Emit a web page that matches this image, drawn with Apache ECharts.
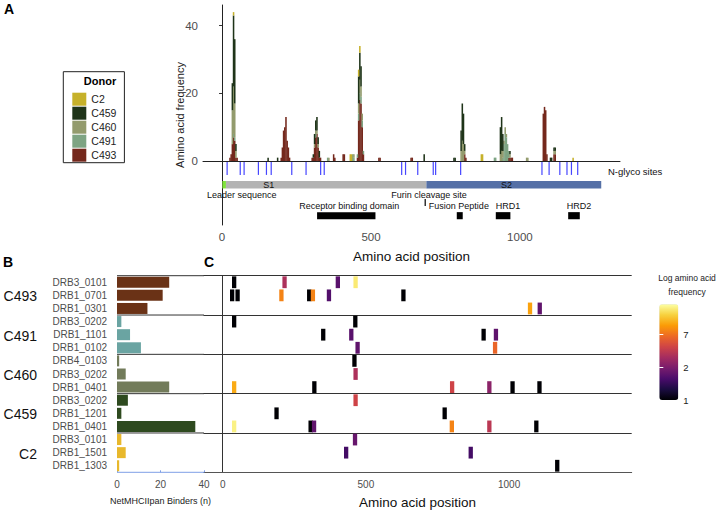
<!DOCTYPE html>
<html>
<head>
<meta charset="utf-8">
<script src="https://cdn.jsdelivr.net/npm/echarts@6/dist/echarts.min.js"></script>
<style>
  html, body { margin: 0; padding: 0; background: #fff; }
  #chart { width: 718px; height: 511px; }
</style>
</head>
<body>
<div id="chart"></div>
<script>
// ---------------- data ----------------
var donors = ['C2', 'C459', 'C460', 'C491', 'C493'];

// Panel A: stacked amino acid frequency (4-aa bins, centre positions)
var histPos  = [26, 30, 34, 38, 42, 46, 50, 154, 186, 198, 202, 206, 210, 214, 218, 222, 226,
                302, 306, 310, 314, 318, 322, 326, 330, 354, 358, 374, 378, 406, 410, 430, 434, 438, 442,
                454, 458, 462, 466, 470, 474, 526, 530, 634, 638, 678, 778, 782,
                802, 806, 810, 814, 818, 870, 874, 914, 918,
                934, 938, 942, 946, 950, 954, 958, 962, 966, 970, 974, 1022, 1026,
                1078, 1082, 1086, 1090, 1102, 1106, 1114, 1118, 1178];
var histC2   = [0, 0, 0, 1, 0, 0, 0, 0, 0, 0, 0, 0, 0, 0, 0, 0, 0,
                0, 0, 0, 0, 0, 0, 0, 0, 0, 0, 0, 0, 0, 0, 2, 2, 0, 0,
                0, 2, 2, 0, 0, 0, 0, 0, 0, 0, 0, 0, 0,
                0, 0, 0, 0, 0, 2, 2, 0, 0,
                0, 0, 0, 0, 0, 0, 0, 0, 0, 0, 0, 0, 0,
                0, 0, 0, 0, 0, 0, 0, 0, 1];
var histC459 = [0, 0, 8, 21, 19, 2, 0, 1, 1, 0, 0, 0, 0, 0, 0, 0, 0,
                0, 1, 3, 3, 4, 2, 2, 0, 0, 0, 0, 0, 0, 0, 0, 0, 0, 0,
                0, 8, 8, 6, 0, 0, 0, 0, 0, 0, 2, 1, 1,
                6, 11, 9, 2, 0, 0, 0, 0, 0,
                8, 10, 5, 0, 0, 0, 0, 0, 1, 0, 0, 0, 0,
                0, 0, 0, 0, 1, 1, 1, 1, 0];
var histC460 = [0, 0, 10, 14, 10, 2, 0, 0, 0, 0, 0, 0, 0, 0, 0, 0, 0,
                0, 0, 1, 1, 1, 1, 0, 0, 0, 1, 0, 0, 0, 0, 0, 0, 0, 1,
                0, 3, 4, 3, 2, 0, 0, 0, 0, 0, 0, 0, 0,
                3, 6, 5, 1, 0, 0, 0, 0, 0,
                2, 3, 2, 1, 2, 1, 0, 0, 1, 0, 0, 1, 1,
                0, 0, 0, 0, 0, 0, 1, 1, 0];
var histC491 = [0, 0, 0, 1, 1, 0, 0, 0, 0, 0, 0, 0, 0, 0, 0, 0, 0,
                0, 0, 0, 1, 0, 0, 0, 0, 1, 0, 0, 0, 0, 0, 0, 0, 2, 1,
                1, 2, 2, 2, 2, 1, 0, 0, 0, 0, 0, 0, 0,
                0, 0, 0, 0, 0, 0, 0, 1, 1,
                0, 0, 1, 5, 8, 7, 5, 2, 0, 0, 0, 0, 0,
                0, 0, 0, 0, 0, 0, 0, 0, 0];
var histC493 = [1, 2, 5, 7, 6, 1, 1, 0, 0, 1, 4, 9, 10, 13, 6, 4, 1,
                1, 1, 4, 7, 8, 4, 1, 1, 0, 0, 2, 1, 2, 2, 0, 0, 0, 0,
                1, 12, 18, 17, 10, 2, 1, 1, 1, 1, 0, 0, 0,
                0, 0, 0, 2, 1, 0, 0, 0, 0,
                0, 0, 0, 0, 0, 0, 0, 1, 1, 1, 1, 0, 0,
                14, 16, 15, 2, 0, 0, 2, 2, 0];

// Panel A annotation tracks (amino acid positions)
var glycoSites = [17, 61, 74, 122, 149, 165, 234, 282, 331, 343, 603, 616, 657, 709, 717, 801,
                  1074, 1098, 1134, 1158, 1173, 1194];
var domainNames = ['', 'S1', 'S2'];
var domainStart = [1, 13, 686];
var domainEnd   = [13, 686, 1273];
var domainLabelAt = [null, 157, 955];
var featureNames = ['Receptor binding domain', 'Fusion Peptide', 'HRD1', 'HRD2'];
var featureStart = [319, 788, 919, 1162];
var featureEnd   = [515, 808, 968, 1201];
var featureLabelAt = [427, 795, 960, 1198];
var siteNames = ['Leader sequence', 'Furin cleavage site'];
var siteLabelAt = [66, 695];
var furinSite = 682;

// Panel B: NetMHCIIpan binders per allele
var rowDonor  = ['C493', 'C493', 'C493', 'C491', 'C491', 'C491', 'C460', 'C460', 'C460',
                 'C459', 'C459', 'C459', 'C2', 'C2', 'C2'];
var rowAllele = ['DRB3_0101', 'DRB1_0701', 'DRB1_0301', 'DRB3_0202', 'DRB1_1101', 'DRB1_0102',
                 'DRB4_0103', 'DRB3_0202', 'DRB1_0401', 'DRB3_0202', 'DRB1_1201', 'DRB1_0401',
                 'DRB3_0101', 'DRB1_1501', 'DRB1_1303'];
var binders   = [24, 21, 14, 2, 6, 11, 1, 4, 24, 5, 2, 36, 2, 4, 1];
var groupFirstRow = [0, 3, 6, 9, 12, 15];
var donorLabelRow = [1, 4, 7, 10, 13];

// Panel C: log amino acid frequency of binders (row, position, ln frequency)
var heatRow = [0, 0, 0, 0,
               1, 1, 1, 1, 1, 1, 1,
               2, 2,
               3, 3,
               4, 4, 4, 4,
               5, 5,
               6,
               7,
               8, 8, 8, 8, 8, 8,
               9,
               10, 10,
               11, 11, 11, 11, 11, 11,
               12,
               13, 13,
               14];
var heatPos = [40, 216, 402, 464,
               33, 52, 205, 302, 315, 371, 631,
               1073, 1107,
               40, 463,
               351, 449, 911, 954,
               471, 951,
               460,
               464,
               40, 320, 801, 931, 1012, 1106,
               464,
               188, 775,
               40, 307, 319, 800, 931, 1095,
               462,
               431, 866,
               1168];
var heatLogFreq = [0, 1.35, 0.75, 2.75,
                   0, 0, 2.1, 0, 2.1, 0.7, 0,
                   2.3, 0.8,
                   0, 0,
                   0, 0.75, 0, 0.8,
                   0.8, 1.9,
                   0,
                   1.35,
                   2.35, 0, 1.6, 1.1, 0, 0,
                   1.6,
                   0, 0,
                   2.8, 0, 0.8, 2.1, 1.45, 0,
                   0.85,
                   0.6, 0.6,
                   0];

// ---------------- styles ----------------
var FONT = 'Liberation Sans, Arial, sans-serif';
var histColor = { C2: '#c6b12a', C459: '#1f3419', C460: '#939b6d', C491: '#7ea483', C493: '#74281c' };
var bindColor = { C2: '#e8b82c', C459: '#2e4a1f', C460: '#727b5a', C491: '#6aa4a2', C493: '#6a3216' };
var domainColor = ['#7fe43a', '#b3b3b3', '#5570a6'];
var inferno = ['#000004', '#1b0c41', '#4a0c6b', '#781c6d', '#a52c60', '#cf4446', '#ed6925', '#fb9b06', '#f7d13d', '#fcffa4'];

// track levels in panel A (y data units below zero)
var GLYCO_Y = [-0.3, -4.1], DOMAIN_Y = [-5.9, -8.1], SITE_TEXT_Y = -10, FURIN_Y = [-11.2, -13.3];
var FEATURE_TEXT_Y = -13.4, FEATURE_Y = [-15.1, -17.2];
var binWidth = 4;

var histByDonor = { C2: histC2, C459: histC459, C460: histC460, C491: histC491, C493: histC493 };
var stackOrder = ['C493', 'C491', 'C460', 'C459', 'C2'];

var rowKeys = rowAllele.map(function (a, i) { return a + '#' + i; });
function plainNum(v) { return String(v); }

function rectBetween(api, x0, y0, x1, y1, fill) {
  var a = api.coord([x0, y1]);
  var c = api.coord([x1, y0]);
  return { type: 'rect', shape: { x: a[0], y: a[1], width: c[0] - a[0], height: c[1] - a[1] }, style: { fill: fill } };
}

// stacked histogram: C493 at the bottom, C2 on top
var series = [];
var stackBase = histPos.map(function () { return 0; });
stackOrder.forEach(function (d, si) {
  var vals = histByDonor[d];
  var data = [];
  histPos.forEach(function (p, i) {
    if (vals[i] > 0) data.push([p - binWidth / 2, p + binWidth / 2, stackBase[i], stackBase[i] + vals[i]]);
    stackBase[i] += vals[i];
  });
  var s = {
    name: d, type: 'custom', xAxisIndex: 0, yAxisIndex: 0, silent: true,
    itemStyle: { color: histColor[d] },
    data: data, encode: { x: [0, 1], y: [2, 3] },
    renderItem: function (params, api) {
      var a = api.coord([api.value(0), api.value(3)]);
      var c = api.coord([api.value(1), api.value(2)]);
      return { type: 'rect', shape: { x: a[0], y: a[1], width: c[0] - a[0] + 0.35, height: c[1] - a[1] },
               style: { fill: api.visual('color') } };
    }
  };
  if (si === 0) {
    s.markLine = {
      silent: true, symbol: 'none', label: { show: false },
      lineStyle: { color: '#222', width: 1, type: 'solid' },
      data: [{ yAxis: 0 }]
    };
  }
  series.push(s);
});

// N-glyco ticks
series.push({
  type: 'custom', xAxisIndex: 0, yAxisIndex: 0, silent: true,
  data: glycoSites.map(function (p) { return [p]; }),
  encode: { x: 0 },
  renderItem: function (params, api) {
    var a = api.coord([api.value(0), GLYCO_Y[0]]);
    var c = api.coord([api.value(0), GLYCO_Y[1]]);
    return { type: 'line', shape: { x1: a[0], y1: a[1], x2: c[0], y2: c[1] },
             style: { stroke: '#4646ff', lineWidth: 1.2 } };
  }
});
// S1 / S2 domain bar
series.push({
  type: 'custom', xAxisIndex: 0, yAxisIndex: 0, silent: true,
  data: domainNames.map(function (n, i) { return [domainStart[i], domainEnd[i], i]; }),
  encode: { x: [0, 1] },
  renderItem: function (params, api) {
    var i = api.value(2);
    var kids = [rectBetween(api, api.value(0), DOMAIN_Y[1], api.value(1), DOMAIN_Y[0], domainColor[i])];
    if (domainLabelAt[i] != null) {
      var t = api.coord([domainLabelAt[i], (DOMAIN_Y[0] + DOMAIN_Y[1]) / 2]);
      kids.push({ type: 'text', x: t[0], y: t[1],
        style: { text: domainNames[i], fill: '#111', font: '9px ' + FONT, align: 'center', verticalAlign: 'middle' } });
    }
    return { type: 'group', children: kids };
  }
});
// leader / furin labels + furin tick
series.push({
  type: 'custom', xAxisIndex: 0, yAxisIndex: 0, silent: true,
  data: siteNames.map(function (n, i) { return [siteLabelAt[i], i]; }),
  encode: { x: 0 },
  renderItem: function (params, api) {
    var i = api.value(1);
    var t = api.coord([api.value(0), SITE_TEXT_Y]);
    var kids = [{ type: 'text', x: t[0], y: t[1],
      style: { text: siteNames[i], fill: '#111', font: '9px ' + FONT, align: 'center', verticalAlign: 'middle' } }];
    if (i === 1) {
      var a = api.coord([furinSite, FURIN_Y[0]]), c = api.coord([furinSite, FURIN_Y[1]]);
      kids.push({ type: 'line', shape: { x1: a[0], y1: a[1], x2: c[0], y2: c[1] }, style: { stroke: '#000', lineWidth: 1.2 } });
    }
    return { type: 'group', children: kids };
  }
});
// RBD, FP, HRD1, HRD2
series.push({
  type: 'custom', xAxisIndex: 0, yAxisIndex: 0, silent: true,
  data: featureNames.map(function (n, i) { return [featureStart[i], featureEnd[i], i]; }),
  encode: { x: [0, 1] },
  renderItem: function (params, api) {
    var i = api.value(2);
    var t = api.coord([featureLabelAt[i], FEATURE_TEXT_Y]);
    return { type: 'group', children: [
      rectBetween(api, api.value(0), FEATURE_Y[1], api.value(1), FEATURE_Y[0], '#000'),
      { type: 'text', x: t[0], y: t[1],
        style: { text: featureNames[i], fill: '#111', font: '9px ' + FONT, align: 'center', verticalAlign: 'middle' } }
    ] };
  }
});
// Panel B bars
series.push({
  type: 'bar', xAxisIndex: 1, yAxisIndex: 1, barWidth: 11, silent: true,
  data: binders.map(function (v, i) { return { value: v, itemStyle: { color: bindColor[rowDonor[i]] } }; })
});
// Panel B donor group dividers
series.push({
  type: 'custom', xAxisIndex: 1, yAxisIndex: 1, silent: true,
  data: groupFirstRow.map(function (r) { return [0, r]; }),
  encode: { x: 0, y: 1 },
  renderItem: function (params, api) {
    var r = api.value(1);
    var band = api.size([0, 1])[1];
    var ref = api.coord([0, Math.min(r, rowKeys.length - 1)]);
    var y = r < rowKeys.length ? ref[1] - band / 2 : ref[1] + band / 2;
    var x0 = api.coord([0, 0])[0], x1 = api.coord([40, 0])[0];
    return { type: 'line', shape: { x1: x0, y1: y, x2: x1, y2: y }, style: { stroke: r === rowKeys.length ? '#7f9fe6' : '#333', lineWidth: 1 } };
  }
});
// Panel B donor names (left of allele labels)
series.push({
  type: 'custom', xAxisIndex: 1, yAxisIndex: 1, silent: true,
  data: donorLabelRow.map(function (r) { return [0, r]; }),
  encode: { x: 0, y: 1 },
  renderItem: function (params, api) {
    var p = api.coord([0, api.value(1)]);
    return { type: 'text', x: p[0] - 80, y: p[1] + 1,
      style: { text: rowDonor[api.value(1)], fill: '#111', font: '14px ' + FONT, align: 'right', verticalAlign: 'middle' } };
  }
});
// Panel C cells
var heatSeriesIndex = series.length;
series.push({
  type: 'custom', xAxisIndex: 2, yAxisIndex: 2, silent: true,
  data: heatPos.map(function (p, i) { return [p, heatRow[i], heatLogFreq[i]]; }),
  encode: { x: 0, y: 1 },
  renderItem: function (params, api) {
    var c = api.coord([api.value(0), api.value(1)]);
    var s = api.size([15, 1]);
    var w = s[0], h = s[1] * 0.9;
    return { type: 'rect', shape: { x: c[0] - w / 2, y: c[1] - h / 2, width: w, height: h },
             style: { fill: api.visual('color') } };
  }
});

var tickLabel = { color: '#4d4d4d', fontFamily: FONT };

var option = {
  animation: false,
  backgroundColor: '#fff',
  textStyle: { fontFamily: FONT },
  grid: [
    { left: 203, top: 5, width: 417, height: 220, outerBoundsMode: 'none' },
    { left: 117, top: 275.7, width: 87, height: 196.6, outerBoundsMode: 'none' },
    { left: 203.5, top: 275.7, width: 428.2, height: 196.6, outerBoundsMode: 'none' },
    { left: 659.3, top: 304.3, width: 19, height: 95.7, outerBoundsMode: 'none' }
  ],
  xAxis: [
    { type: 'value', gridIndex: 0, position: 'bottom', min: -64, max: 1336,
      axisLine: { show: true, lineStyle: { color: '#222' } },
      axisTick: { show: false },
      axisLabel: Object.assign({ customValues: [0, 500, 1000], fontSize: 11.5, margin: 6, formatter: plainNum }, tickLabel),
      splitLine: { show: false },
      name: 'Amino acid position', nameLocation: 'middle', nameGap: 24, nameMoveOverlap: false,
      nameTextStyle: { fontSize: 13.5, color: '#111', fontFamily: FONT } },
    { type: 'value', gridIndex: 1, min: 0, max: 40, interval: 20,
      axisLine: { show: false },
      axisTick: { show: true, inside: true, length: 2, lineStyle: { color: '#7f9fe6' } },
      axisLabel: Object.assign({ fontSize: 10, margin: 7 }, tickLabel),
      splitLine: { show: false },
      name: 'NetMHCIIpan Binders (n)', nameLocation: 'middle', nameGap: 24, nameMoveOverlap: false,
      nameTextStyle: { fontSize: 9, color: '#222', fontFamily: FONT } },
    { type: 'value', gridIndex: 2, min: -67, max: 1428,
      axisLine: { show: true, lineStyle: { color: '#555' } },
      axisTick: { show: false },
      axisLabel: Object.assign({ customValues: [0, 500, 1000], fontSize: 10, margin: 7, formatter: plainNum }, tickLabel),
      splitLine: { show: false },
      name: 'Amino acid position', nameLocation: 'middle', nameGap: 23, nameMoveOverlap: false,
      nameTextStyle: { fontSize: 13.5, color: '#111', fontFamily: FONT } },
    { type: 'value', gridIndex: 3, min: 0, max: 1, show: false }
  ],
  yAxis: [
    { type: 'value', gridIndex: 0, min: -18.9, max: 46.1,
      axisLine: { show: true, lineStyle: { color: '#222' } },
      axisTick: { show: true, length: 3, customValues: [0, 20, 40], lineStyle: { color: '#333' } },
      axisLabel: Object.assign({ customValues: [0, 20, 40], fontSize: 11.5, margin: 5 }, tickLabel),
      splitLine: { show: false },
      name: 'Amino acid frequency', nameLocation: 'middle', nameGap: 18, nameMoveOverlap: false,
      nameTextStyle: { fontSize: 11, color: '#222', fontFamily: FONT } },
    { type: 'category', gridIndex: 1, data: rowKeys, inverse: true,
      axisLine: { show: false }, axisTick: { show: false },
      axisLabel: Object.assign({ fontSize: 10, margin: 10, interval: 0,
        formatter: function (v) { return v.split('#')[0]; } }, tickLabel),
      splitLine: { show: false } },
    { type: 'category', gridIndex: 2, data: rowKeys, inverse: true,
      axisLine: { show: true, lineStyle: { color: '#333' } }, axisTick: { show: false },
      axisLabel: { show: false },
      splitLine: { show: true, interval: 2, lineStyle: { color: '#333', width: 1 } } },
    { type: 'value', gridIndex: 3, min: 0, max: 2.9, position: 'right', z: 10,
      axisLine: { show: false },
      axisTick: { show: true, inside: true, length: 4, customValues: [1, 2], lineStyle: { color: '#fff' } },
      axisLabel: { customValues: [0, 1, 2], fontSize: 9.5, color: '#222', fontFamily: FONT, margin: 5,
        formatter: function (v) { return String(Math.floor(Math.exp(v))); } },
      splitLine: { show: false } },
    { type: 'value', gridIndex: 3, min: 0, max: 2.9, position: 'left', z: 10,
      axisLine: { show: false },
      axisTick: { show: true, inside: true, length: 4, customValues: [1, 2], lineStyle: { color: '#fff' } },
      axisLabel: { show: false }, splitLine: { show: false } }
  ],
  visualMap: {
    type: 'continuous', min: 0, max: 2.9, dimension: 2, seriesIndex: [heatSeriesIndex],
    inRange: { color: inferno }, calculable: false, text: ['', ''],
    left: 659.3, top: 304.3, itemWidth: 19, itemHeight: 95.7, padding: 0,
    textStyle: { color: 'rgba(0,0,0,0)' }
  },
  legend: {
    data: donors, orient: 'vertical', left: 63.3, top: 71.7, padding: [21, 8, 1, 9],
    itemWidth: 14, itemHeight: 13, itemGap: 1, icon: 'rect', selectedMode: false,
    borderColor: '#222', borderWidth: 1,
    textStyle: { fontSize: 10.5, color: '#222', fontFamily: FONT }
  },
  graphic: [
    { type: 'text', x: 4, y: 9, style: { text: 'A', font: 'bold 14px ' + FONT, fill: '#000', align: 'left', verticalAlign: 'middle' } },
    { type: 'text', x: 3, y: 262, style: { text: 'B', font: 'bold 14px ' + FONT, fill: '#000', align: 'left', verticalAlign: 'middle' } },
    { type: 'text', x: 204, y: 262, style: { text: 'C', font: 'bold 14px ' + FONT, fill: '#000', align: 'left', verticalAlign: 'middle' } },
    { type: 'text', x: 100, y: 81, style: { text: 'Donor', font: 'bold 11px ' + FONT, fill: '#000', align: 'center', verticalAlign: 'middle' } },
    { type: 'text', x: 608, y: 171, style: { text: 'N-glyco sites', font: '9.5px ' + FONT, fill: '#111', align: 'left', verticalAlign: 'middle' } },
    { type: 'text', x: 687, y: 278, style: { text: 'Log amino acid', font: '8.5px ' + FONT, fill: '#222', align: 'center', verticalAlign: 'middle' } },
    { type: 'text', x: 687, y: 292, style: { text: 'frequency', font: '8.5px ' + FONT, fill: '#222', align: 'center', verticalAlign: 'middle' } }
  ],
  series: series
};

var chart = echarts.init(document.getElementById('chart'), null, { renderer: 'svg' });
chart.setOption(option);
</script>
</body>
</html>
